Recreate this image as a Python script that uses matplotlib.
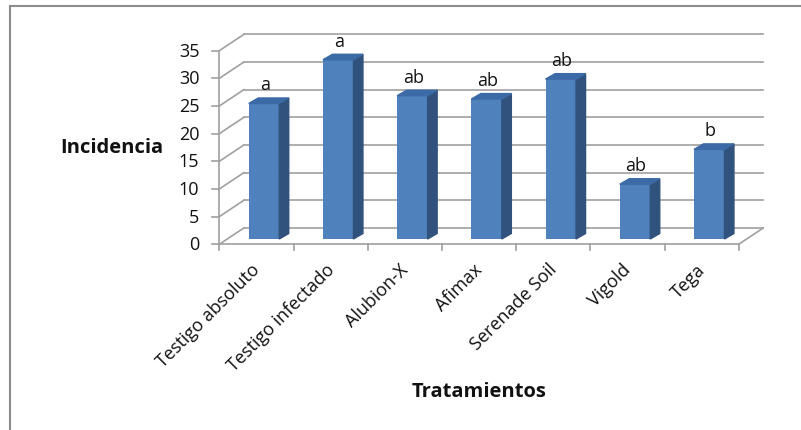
import matplotlib
matplotlib.use("Agg")
import matplotlib.pyplot as plt
from matplotlib.patches import Polygon
from matplotlib.lines import Line2D

plt.rcParams["font.family"] = ["Open Sans", "DejaVu Sans"]

# data
tratamientos = ["Testigo absoluto", "Testigo infectado", "Alubion-X", "Afimax",
                "Serenade Soil", "Vigold", "Tega"]
incidencia = [24.5, 32.4, 25.9, 25.3, 28.9, 9.9, 16.2]
letras = ["a", "a", "ab", "ab", "ab", "ab", "b"]
y_ticks = [0, 5, 10, 15, 20, 25, 30, 35]

W, H = 801, 431
FRONT = "#4f81bd"
SIDE = "#30527c"
TOP = "#3c6aa6"
GRID = "#a0a0a0"
TXT = "#111111"

fig = plt.figure(figsize=(W / 100, H / 100), dpi=100)
# plot area in pixels: x 219..739, y 245 (0) .. 52 (35)
x0, x1, y0, y1 = 219.3, 738.7, 245.3, 51.7
ax = fig.add_axes([x0 / W, 1 - y0 / H, (x1 - x0) / W, (y0 - y1) / H])
n = len(tratamientos)
ymax = y_ticks[-1]
ax.set_xlim(0, n)
ax.set_ylim(0, ymax)
ax.axis("off")

ux = n / (x1 - x0)      # data units per pixel
uy = ymax / (y0 - y1)

# back wall / floor depth
wdx, wdy = 24.5 * ux, 16.3 * uy

line_kw = dict(color=GRID, lw=1.2, clip_on=False, zorder=1)
for t in y_ticks:
    ax.plot([0, wdx], [t, t + wdy], **line_kw)
    ax.plot([wdx, n + wdx], [t + wdy, t + wdy], **line_kw)
    ax.plot([-7 * ux, 0], [t, t], **line_kw)

# floor edges and axes
ax.plot([0, n], [0, 0], **line_kw)
ax.plot([n, n + wdx], [0, wdy], **line_kw)
ax.plot([0, 0], [0, ymax], **line_kw)
for i in range(n + 1):
    ax.plot([i, i], [0, -6 * uy], **line_kw)

# bars
bw = 30.5 * ux
off = 7.6 * ux
base = 5.3 * uy
bdx, bdy = 9.5 * ux, 5.5 * uy
xs = [i + 0.5 + off for i in range(n)]
ax.bar(xs, incidencia, width=bw, bottom=base, color=FRONT, zorder=3, clip_on=False)
for xc, h, lab in zip(xs, incidencia, letras):
    xl, xr = xc - bw / 2, xc + bw / 2
    top = base + h
    ax.add_patch(Polygon([(xr, base), (xr + bdx, base + bdy), (xr + bdx, top + bdy), (xr, top)],
                         closed=True, color=SIDE, zorder=3, clip_on=False))
    ax.add_patch(Polygon([(xl, top), (xl + bdx, top + bdy), (xr + bdx, top + bdy), (xr, top)],
                         closed=True, color=TOP, zorder=3, clip_on=False))
    ax.text(xc + 1 * ux, top + 14 * uy, lab, ha="center", va="baseline",
            fontsize=13, color=TXT, zorder=4)

# tick labels
for t in y_ticks:
    ax.text(-20 * ux, t, str(t), ha="right", va="center", fontsize=13, color=TXT)
for i, name in enumerate(tratamientos):
    ax.text(i + 0.5 + 1 * ux, -22 * uy, name, ha="right", va="center", rotation=45,
            rotation_mode="anchor", fontsize=13, color=TXT)

# axis titles
fig.text(112 / W, 1 - 148 / H, "Incidencia", ha="center", va="center",
         fontsize=14.5, fontweight="bold", color=TXT)
fig.text(479 / W, 1 - 392 / H, "Tratamientos", ha="center", va="center",
         fontsize=14.5, fontweight="bold", color=TXT)

# chart border (left and top only visible)
fig.add_artist(Line2D([10 / W, 10 / W], [0, 1 - 7 / H], color="#8c8c8c", lw=1.5))
fig.add_artist(Line2D([10 / W, 1], [1 - 7 / H, 1 - 7 / H], color="#8c8c8c", lw=1.5))

fig.savefig("out.png", dpi=100)
